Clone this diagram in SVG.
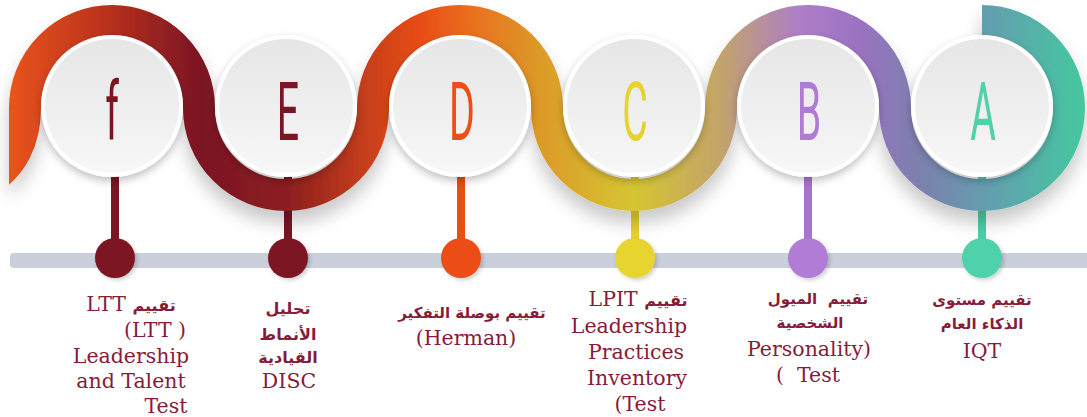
<svg xmlns="http://www.w3.org/2000/svg" width="1087" height="417" viewBox="0 0 1087 417">
<style>
.lat{font-family:"DejaVu Serif","Liberation Serif",serif;font-size:20.5px;fill:#861c3a;text-anchor:middle}
.ar{font-family:"DejaVu Sans","Noto Sans",sans-serif;font-size:15px;font-weight:bold;fill:#861c3a;text-anchor:middle}
.let{font-family:Roboto,"DejaVu Sans",sans-serif;font-size:82px;font-weight:400;text-anchor:middle}
.rim{fill:#ffffff}
.face{fill:url(#face)}
</style>
<defs>
<linearGradient id="band" gradientUnits="userSpaceOnUse" x1="0" y1="0" x2="1087" y2="0">
<stop offset="0" stop-color="#ee561a"/>
<stop offset="0.018" stop-color="#e4501a"/>
<stop offset="0.101" stop-color="#b7301d"/>
<stop offset="0.184" stop-color="#7a1523"/>
<stop offset="0.267" stop-color="#8d1f20"/>
<stop offset="0.340" stop-color="#c9401a"/>
<stop offset="0.386" stop-color="#e84c17"/>
<stop offset="0.432" stop-color="#ea6e1e"/>
<stop offset="0.497" stop-color="#dc9a28"/>
<stop offset="0.583" stop-color="#d6c532"/>
<stop offset="0.662" stop-color="#c3a46a"/>
<stop offset="0.736" stop-color="#ad7ec8"/>
<stop offset="0.791" stop-color="#9a72c0"/>
<stop offset="0.846" stop-color="#7c80ae"/>
<stop offset="0.911" stop-color="#62a0ae"/>
<stop offset="1" stop-color="#44c8a0"/>
</linearGradient>
<linearGradient id="face" x1="0" y1="0" x2="0" y2="1">
<stop offset="0" stop-color="#e6e6e6"/>
<stop offset="1" stop-color="#f7f7f7"/>
</linearGradient>
<filter id="sh" x="-30%" y="-30%" width="160%" height="170%">
<feGaussianBlur in="SourceAlpha" stdDeviation="9"/>
<feOffset dy="12" result="b"/>
<feComponentTransfer><feFuncA type="linear" slope="0.22"/></feComponentTransfer>
<feMerge><feMergeNode/><feMergeNode in="SourceGraphic"/></feMerge>
</filter>
<filter id="csh" x="-30%" y="-30%" width="160%" height="170%">
<feGaussianBlur in="SourceAlpha" stdDeviation="4"/>
<feOffset dy="4" result="b"/>
<feComponentTransfer><feFuncA type="linear" slope="0.25"/></feComponentTransfer>
<feMerge><feMergeNode/><feMergeNode in="SourceGraphic"/></feMerge>
</filter>
<filter id="dsh" x="-30%" y="-30%" width="160%" height="160%">
<feGaussianBlur in="SourceAlpha" stdDeviation="2"/>
<feOffset dx="2" dy="2" result="b"/>
<feComponentTransfer><feFuncA type="linear" slope="0.2"/></feComponentTransfer>
<feMerge><feMergeNode/><feMergeNode in="SourceGraphic"/></feMerge>
</filter>
<clipPath id="clip"><rect x="9" y="0" width="1078" height="417"/></clipPath>
</defs>
<rect width="1087" height="417" fill="#ffffff"/>
<rect id="bar" x="10" y="253" width="1090" height="15" rx="4" fill="#c9d0dc"/>
<g id="connectors">
<rect x="111" y="150" width="8" height="108" fill="#7b1523"/>
<rect x="284" y="150" width="8" height="108" fill="#7b1523"/>
<rect x="457" y="150" width="8" height="108" fill="#e94e17"/>
<rect x="631" y="150" width="8" height="108" fill="#e8d22e"/>
<rect x="804" y="150" width="8" height="108" fill="#a875cc"/>
<rect x="978" y="150" width="8" height="108" fill="#4ecfa9"/>
<g filter="url(#dsh)">
<circle cx="115" cy="258" r="20" fill="#7b1523"/>
<circle cx="288" cy="258" r="20" fill="#7b1523"/>
<circle cx="461" cy="258" r="20" fill="#ec4e16"/>
<circle cx="635" cy="258" r="20" fill="#e8d42e"/>
<circle cx="808" cy="258" r="20" fill="#b07bd6"/>
<circle cx="982" cy="258" r="20" fill="#4fd1ab"/>
</g>
</g>
<g id="ribbon" filter="url(#sh)">
<path clip-path="url(#clip)" d="M -12 180 C 12 166 25 140 25 108 A 87 87 0 0 1 199 108 A 87 87 0 0 0 373 108 A 87 87 0 0 1 547 108 A 87 87 0 0 0 721 108 A 87 87 0 0 1 895 108 A 87 87 0 1 0 982 21" fill="none" stroke="url(#band)" stroke-width="32"/>
</g>
<g id="node-f">
<g filter="url(#csh)"><circle class="rim" cx="112" cy="106" r="71"/></g>
<circle class="face" cx="112" cy="106" r="67"/>
<text class="let" transform="translate(112 140) scale(0.48 1)" fill="#7b1523">f</text>
<text class="lat" x="131" y="311">LTT <tspan class="ar" style="font-size:16px">تقييم</tspan></text>
<text class="lat" x="155" y="337">(LTT )</text>
<text class="lat" x="131" y="363">Leadership</text>
<text class="lat" x="131" y="388">and Talent</text>
<text class="lat" x="166" y="413">Test</text>
</g>
<g id="node-e">
<g filter="url(#csh)"><circle class="rim" cx="286" cy="106" r="71"/></g>
<circle class="face" cx="286" cy="106" r="67"/>
<text class="let" transform="translate(288 140) scale(0.48 1)" fill="#7b1523">E</text>
<text class="ar" x="288" y="314" style="font-size:16px">تحليل</text>
<text class="ar" x="288" y="340" style="font-size:16px">الأنماط</text>
<text class="ar" x="288" y="363" style="font-size:16px">القيادية</text>
<text class="lat" x="289" y="388">DISC</text>
</g>
<g id="node-d">
<g filter="url(#csh)"><circle class="rim" cx="460" cy="106" r="71"/></g>
<circle class="face" cx="460" cy="106" r="67"/>
<text class="let" transform="translate(462 140) scale(0.48 1)" fill="#ec4e16">D</text>
<text class="ar" x="472" y="318">تقييم بوصلة التفكير</text>
<text class="lat" x="466" y="345">(Herman)</text>
</g>
<g id="node-c">
<g filter="url(#csh)"><circle class="rim" cx="634" cy="106" r="71"/></g>
<circle class="face" cx="634" cy="106" r="67"/>
<text class="let" transform="translate(635 140) scale(0.48 1)" fill="#e8d22e">C</text>
<text class="lat" x="638" y="306">LPIT <tspan class="ar" style="font-size:16px">تقييم</tspan></text>
<text class="lat" x="629" y="333">Leadership</text>
<text class="lat" x="636" y="359">Practices</text>
<text class="lat" x="637" y="385">Inventory</text>
<text class="lat" x="640" y="411">(Test</text>
</g>
<g id="node-b">
<g filter="url(#csh)"><circle class="rim" cx="808" cy="106" r="71"/></g>
<circle class="face" cx="808" cy="106" r="67"/>
<text class="let" transform="translate(809 140) scale(0.48 1)" fill="#b07bd6">B</text>
<text class="ar" x="818" y="304" xml:space="preserve">تقييم  الميول</text>
<text class="ar" x="810" y="328">الشخصية</text>
<text class="lat" x="809" y="356">Personality)</text>
<text class="lat" x="808" y="382" xml:space="preserve">(  Test</text>
</g>
<g id="node-a">
<g filter="url(#csh)"><circle class="rim" cx="982" cy="106" r="71"/></g>
<circle class="face" cx="982" cy="106" r="67"/>
<text class="let" transform="translate(983 140) scale(0.48 1)" fill="#4fd1ab">A</text>
<text class="ar" x="982" y="305">تقييم مستوى</text>
<text class="ar" x="982" y="329">الذكاء العام</text>
<text class="lat" x="982" y="358">IQT</text>
</g>
</svg>
